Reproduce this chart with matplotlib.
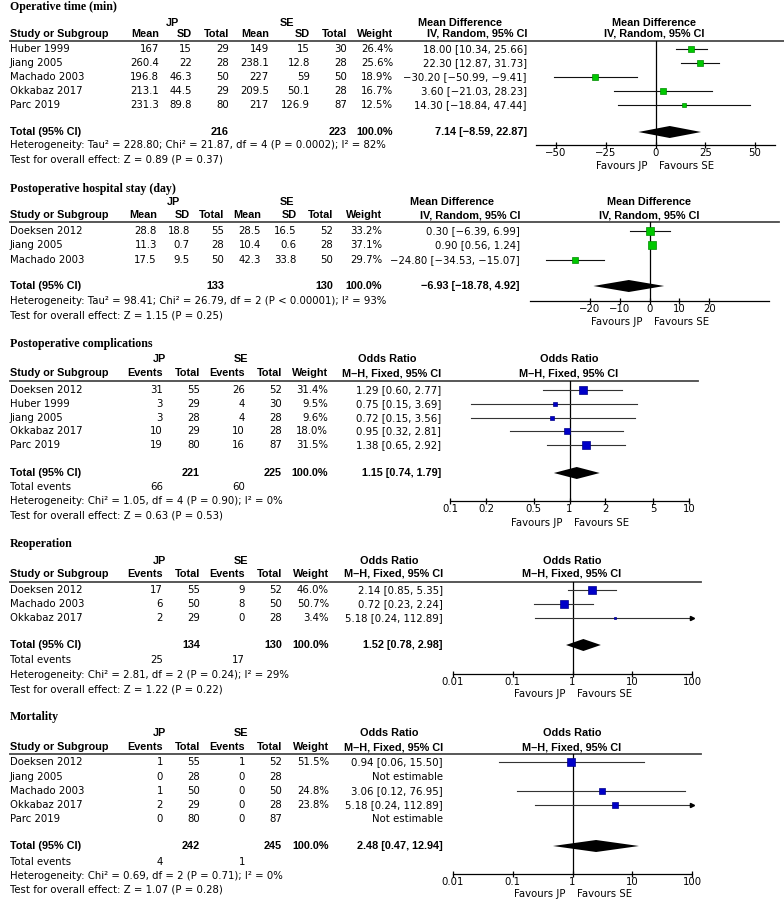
import numpy as np
import matplotlib
matplotlib.use("Agg")
import matplotlib.pyplot as plt

W, H = 784, 901
plt.rcParams['font.family'] = 'DejaVu Sans'
FS = 7.3     # regular text
FSB = 7.8    # bold text (Liberation Sans Bold, narrower like the original)

# ---- data ----
# Operative time (min)
studies1 = ["Huber 1999", "Jiang 2005", "Machado 2003", "Okkabaz 2017", "Parc 2019"]
jp_mean1 = [167, 260.4, 196.8, 213.1, 231.3]
jp_sd1 = [15, 22, 46.3, 44.5, 89.8]
jp_n1 = [29, 28, 50, 29, 80]
se_mean1 = [149, 238.1, 227, 209.5, 217]
se_sd1 = [15, 12.8, 59, 50.1, 126.9]
se_n1 = [30, 28, 50, 28, 87]
weight1 = [26.4, 25.6, 18.9, 16.7, 12.5]
est1 = [18.00, 22.30, -30.20, 3.60, 14.30]
lo1 = [10.34, 12.87, -50.99, -21.03, -18.84]
hi1 = [25.66, 31.73, -9.41, 28.23, 47.44]
tot1 = [216, 223, 7.14, -8.59, 22.87]
het1 = "Heterogeneity: Tau² = 228.80; Chi² = 21.87, df = 4 (P = 0.0002); I² = 82%"
z1 = "Test for overall effect: Z = 0.89 (P = 0.37)"

# Postoperative hospital stay (day)
studies2 = ["Doeksen 2012", "Jiang 2005", "Machado 2003"]
jp_mean2 = [28.8, 11.3, 17.5]
jp_sd2 = [18.8, 0.7, 9.5]
jp_n2 = [55, 28, 50]
se_mean2 = [28.5, 10.4, 42.3]
se_sd2 = [16.5, 0.6, 33.8]
se_n2 = [52, 28, 50]
weight2 = [33.2, 37.1, 29.7]
est2 = [0.30, 0.90, -24.80]
lo2 = [-6.39, 0.56, -34.53]
hi2 = [6.99, 1.24, -15.07]
tot2 = [133, 130, -6.93, -18.78, 4.92]
het2 = "Heterogeneity: Tau² = 98.41; Chi² = 26.79, df = 2 (P < 0.00001); I² = 93%"
z2 = "Test for overall effect: Z = 1.15 (P = 0.25)"

# Postoperative complications
studies3 = ["Doeksen 2012", "Huber 1999", "Jiang 2005", "Okkabaz 2017", "Parc 2019"]
jp_ev3 = [31, 3, 3, 10, 19]
jp_n3 = [55, 29, 28, 29, 80]
se_ev3 = [26, 4, 4, 10, 16]
se_n3 = [52, 30, 28, 28, 87]
weight3 = [31.4, 9.5, 9.6, 18.0, 31.5]
est3 = [1.29, 0.75, 0.72, 0.95, 1.38]
lo3 = [0.60, 0.15, 0.15, 0.32, 0.65]
hi3 = [2.77, 3.69, 3.56, 2.81, 2.92]
tot3 = [221, 225, 1.15, 0.74, 1.79]
events3 = [66, 60]
het3 = "Heterogeneity: Chi² = 1.05, df = 4 (P = 0.90); I² = 0%"
z3 = "Test for overall effect: Z = 0.63 (P = 0.53)"

# Reoperation
studies4 = ["Doeksen 2012", "Machado 2003", "Okkabaz 2017"]
jp_ev4 = [17, 6, 2]
jp_n4 = [55, 50, 29]
se_ev4 = [9, 8, 0]
se_n4 = [52, 50, 28]
weight4 = [46.0, 50.7, 3.4]
est4 = [2.14, 0.72, 5.18]
lo4 = [0.85, 0.23, 0.24]
hi4 = [5.35, 2.24, 112.89]
tot4 = [134, 130, 1.52, 0.78, 2.98]
events4 = [25, 17]
het4 = "Heterogeneity: Chi² = 2.81, df = 2 (P = 0.24); I² = 29%"
z4 = "Test for overall effect: Z = 1.22 (P = 0.22)"

# Mortality
studies5 = ["Doeksen 2012", "Jiang 2005", "Machado 2003", "Okkabaz 2017", "Parc 2019"]
jp_ev5 = [1, 0, 1, 2, 0]
jp_n5 = [55, 28, 50, 29, 80]
se_ev5 = [1, 0, 0, 0, 0]
se_n5 = [52, 28, 50, 28, 87]
weight5 = [51.5, None, 24.8, 23.8, None]
est5 = [0.94, None, 3.06, 5.18, None]
lo5 = [0.06, None, 0.12, 0.24, None]
hi5 = [15.50, None, 76.95, 112.89, None]
tot5 = [242, 245, 2.48, 0.47, 12.94]
events5 = [4, 1]
het5 = "Heterogeneity: Chi² = 0.69, df = 2 (P = 0.71); I² = 0%"
z5 = "Test for overall effect: Z = 1.07 (P = 0.28)"


def num(v):
    return f"{v:g}".replace("-", "\u2212")


def ci(e, l, h):
    return f"{e:.2f} [{l:.2f}, {h:.2f}]".replace("-", "\u2212")


fig = plt.figure(figsize=(W / 100, H / 100), dpi=100)
ax = fig.add_axes([0, 0, 1, 1])
ax.set_xlim(0, W)
ax.set_ylim(H, 0)
ax.axis('off')


def txt(x, y, s, ha='left', bold=False, size=None, **kw):
    if size is None:
        size = FSB if bold else FS
    if bold and 'family' not in kw:
        kw['family'] = ['Liberation Sans', 'DejaVu Sans']
    ax.text(x, y, s, ha=ha, va='center', fontsize=size,
            fontweight='bold' if bold else 'normal', **kw)


def panel(L, title, studies, cols, weight, est, lo, hi, tot, events, het, z,
          kind, color, edge):
    txt(10, L['title'], title, bold=True, family='Liberation Serif', size=8.6)
    txt(L['jp'], L['group'], "JP", ha='center', bold=True)
    txt(L['se'], L['group'], "SE", ha='center', bold=True)
    txt(10, L['head'], "Study or Subgroup", bold=True)
    for name, x in zip(L['colnames'], L['colx']):
        txt(x, L['head'], name, ha='right', bold=True)
    txt(L['effx'], L['group'], L['effname'], ha='center', bold=True)
    txt(L['cix'], L['head'], L['method'], ha='right', bold=True)
    ax.plot([10, L['lineend']], [L['line'], L['line']], color='#4a4a4a', lw=1.3)

    ys = L['rows']
    for i, s in enumerate(studies):
        txt(10, ys[i], s)
        for c, x in zip(cols, L['colx'][:-1]):
            txt(x, ys[i], num(c[i]), ha='right')
        if weight[i] is None:
            txt(L['cix'], ys[i], "Not estimable", ha='right')
        else:
            txt(L['colx'][-1], ys[i], f"{weight[i]:.1f}%", ha='right')
            txt(L['cix'], ys[i], ci(est[i], lo[i], hi[i]), ha='right')

    txt(10, L['total'], "Total (95% CI)", bold=True)
    txt(L['colx'][L['ntot'][0]], L['total'], str(tot[0]), ha='right', bold=True)
    txt(L['colx'][L['ntot'][1]], L['total'], str(tot[1]), ha='right', bold=True)
    txt(L['colx'][-1], L['total'], "100.0%", ha='right', bold=True)
    txt(L['cix'], L['total'], ci(tot[2], tot[3], tot[4]), ha='right', bold=True)
    if events is not None:
        txt(10, L['events'], "Total events")
        txt(L['colx'][0], L['events'], str(events[0]), ha='right')
        txt(L['colx'][2], L['events'], str(events[1]), ha='right')
    txt(10, L['het'], het)
    txt(10, L['test'], z)

    # forest plot
    x0, x1 = L['fx']
    top, bot = L['line'], L['axis']
    fa = fig.add_axes([x0 / W, 1 - bot / H, (x1 - x0) / W, (bot - top) / H])
    fa.patch.set_visible(False)
    for sp in ['top', 'left', 'right']:
        fa.spines[sp].set_visible(False)
    fa.spines['bottom'].set_linewidth(0.9)
    fa.set_ylim(bot, top)
    fa.set_yticks([])
    if kind == 'log':
        fa.set_xscale('log')
        ref = 1
        lc = '#333333'
    else:
        ref = 0
        lc = '#111111'
    fa.set_xlim(*L['xlim'])
    fa.set_xticks(L['ticks'])
    fa.set_xticklabels(L['ticklabels'], fontsize=FS)
    fa.minorticks_off()
    fa.tick_params(axis='x', direction='inout', length=5, width=0.9, pad=0)
    fa.axvline(ref, color='black', lw=0.9)
    xmax = L['xlim'][1]
    for i in range(len(studies)):
        if est[i] is None:
            continue
        h = min(hi[i], xmax)
        fa.plot([lo[i], h], [ys[i], ys[i]], color=lc, lw=0.8)
        if hi[i] > xmax:
            fa.plot([xmax], [ys[i]], marker='>', color='black', ms=3, clip_on=False)
        side = 1.25 * np.sqrt(weight[i]) * 0.72
        fa.plot([est[i]], [ys[i]], marker='s', ms=side, mfc=color, mec=edge, mew=0.5)
    e, l, u = tot[2], tot[3], tot[4]
    y = L['total']
    fa.fill([l, e, u, e], [y, y - 6, y, y + 6], color='black', lw=0)
    txt(L['fcenter'], L['group'], L['effname'], ha='center', bold=True)
    txt(L['fcenter'], L['head'], L['method'], ha='center', bold=True)
    txt(L['fcenter'] - 6, L['fav'], "Favours JP", ha='right')
    txt(L['fcenter'] + 5, L['fav'], "Favours SE", ha='left')


L1 = dict(title=7, group=23, head=34, line=41, rows=[49, 63, 77, 91, 105],
          total=132, events=None, het=145, test=159, axis=145, fav=166,
          jp=172, se=287,
          colnames=["Mean", "SD", "Total", "Mean", "SD", "Total", "Weight"],
          colx=[159, 192, 229, 269, 310, 347, 393], ntot=(2, 5),
          effx=460, effname="Mean Difference", cix=527, method="IV, Random, 95% CI",
          lineend=784, fx=(536, 775), xlim=(-60, 60), ticks=[-50, -25, 0, 25, 50],
          ticklabels=["\u221250", "\u221225", "0", "25", "50"], fcenter=654)
L2 = dict(title=189, group=202, head=215, line=222, rows=[231, 245, 260],
          total=286, events=None, het=301, test=315, axis=301, fav=322,
          jp=173, se=287,
          colnames=["Mean", "SD", "Total", "Mean", "SD", "Total", "Weight"],
          colx=[157, 190, 224, 261, 297, 333, 382], ntot=(2, 5),
          effx=452, effname="Mean Difference", cix=520, method="IV, Random, 95% CI",
          lineend=779, fx=(530, 769), xlim=(-40, 40), ticks=[-20, -10, 0, 10, 20],
          ticklabels=["\u221220", "\u221210", "0", "10", "20"], fcenter=649)
L3 = dict(title=344, group=359, head=373, line=381, rows=[390, 404, 418, 431, 445],
          total=473, events=487, het=501, test=515, axis=501, fav=523,
          jp=159, se=241,
          colnames=["Events", "Total", "Events", "Total", "Weight"],
          colx=[163, 200, 245, 282, 328], ntot=(1, 3),
          effx=387, effname="Odds Ratio", cix=441, method="M\u2013H, Fixed, 95% CI",
          lineend=698, fx=(450, 689), xlim=(0.1, 10), ticks=[0.1, 0.2, 0.5, 1, 2, 5, 10],
          ticklabels=["0.1", "0.2", "0.5", "1", "2", "5", "10"], fcenter=569)
L4 = dict(title=544, group=561, head=574, line=582, rows=[590, 604, 618],
          total=645, events=660, het=675, test=689, axis=674, fav=694,
          jp=159, se=241,
          colnames=["Events", "Total", "Events", "Total", "Weight"],
          colx=[163, 200, 245, 282, 329], ntot=(1, 3),
          effx=389, effname="Odds Ratio", cix=443, method="M\u2013H, Fixed, 95% CI",
          lineend=701, fx=(453, 692), xlim=(0.01, 100), ticks=[0.01, 0.1, 1, 10, 100],
          ticklabels=["0.01", "0.1", "1", "10", "100"], fcenter=572)
L5 = dict(L4, title=717, group=733, head=747, line=754, rows=[762, 777, 791, 805, 819],
          total=846, events=862, het=876, test=890, axis=874, fav=894)

green, green_e = '#00c800', '#008a00'
blue, blue_e = '#0000c8', '#00008a'

panel(L1, "Operative time (min)", studies1,
      [jp_mean1, jp_sd1, jp_n1, se_mean1, se_sd1, se_n1],
      weight1, est1, lo1, hi1, tot1, None, het1, z1, 'lin', green, green_e)
panel(L2, "Postoperative hospital stay (day)", studies2,
      [jp_mean2, jp_sd2, jp_n2, se_mean2, se_sd2, se_n2],
      weight2, est2, lo2, hi2, tot2, None, het2, z2, 'lin', green, green_e)
panel(L3, "Postoperative complications", studies3,
      [jp_ev3, jp_n3, se_ev3, se_n3],
      weight3, est3, lo3, hi3, tot3, events3, het3, z3, 'log', blue, blue_e)
panel(L4, "Reoperation", studies4,
      [jp_ev4, jp_n4, se_ev4, se_n4],
      weight4, est4, lo4, hi4, tot4, events4, het4, z4, 'log', blue, blue_e)
panel(L5, "Mortality", studies5,
      [jp_ev5, jp_n5, se_ev5, se_n5],
      weight5, est5, lo5, hi5, tot5, events5, het5, z5, 'log', blue, blue_e)

fig.savefig("out.png", dpi=100)
